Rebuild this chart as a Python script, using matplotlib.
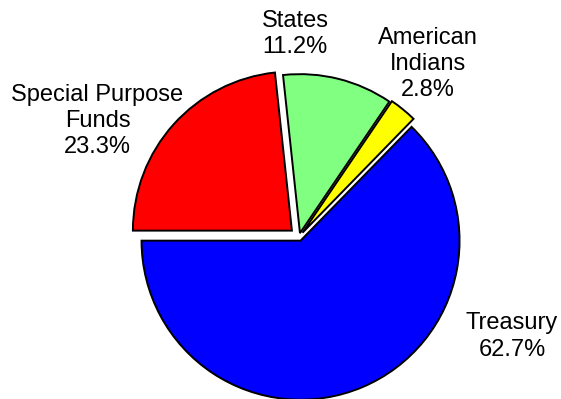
import matplotlib
matplotlib.use("Agg")
import matplotlib.pyplot as plt

plt.rcParams['font.family'] = ['Liberation Sans', 'DejaVu Sans']

# data
names = ["Treasury", "American\nIndians", "States", "Special Purpose\nFunds"]
shares = [62.7, 2.8, 11.2, 23.3]
colors = ["#0000ff", "#ffff00", "#80ff80", "#ff0000"]
explode = [0.025, 0.035, 0.025, 0.06]

# label placement (data units, radius = 1)
label_pos = [(1.34, -0.626), (0.81, 1.088), (-0.025, 1.277), (-1.267, 0.73)]

fig = plt.figure(figsize=(5.61, 3.99), dpi=100)
ax = fig.add_axes([0, 0, 1, 1])

wedges, _ = ax.pie(shares, colors=colors, explode=explode, startangle=180,
                   counterclock=True,
                   wedgeprops=dict(edgecolor="black", linewidth=1.4))

for name, v, (x, y) in zip(names, shares, label_pos):
    ax.text(x, y, "%s\n%.1f%%" % (name, v), ha="center", va="center",
            fontsize=17, linespacing=1.25, multialignment="center")

# pie centre at (299, 237) px from the top-left, radius 159 px
ax.set_aspect("equal")
ax.set_xlim(-299 / 159, (561 - 299) / 159)
ax.set_ylim(-(399 - 237) / 159, 237 / 159)
ax.axis("off")

fig.savefig("out.png", dpi=100)
